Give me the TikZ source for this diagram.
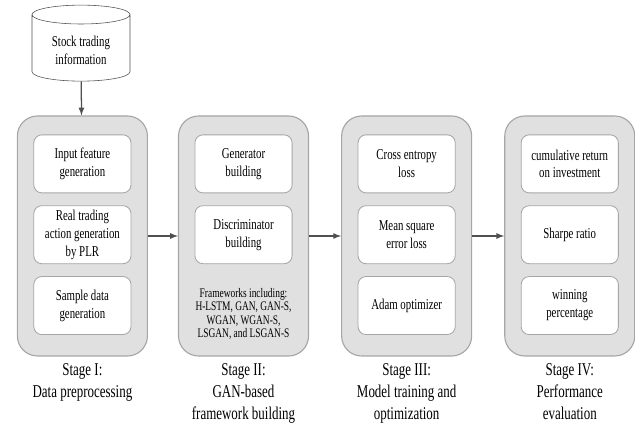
\documentclass[tikz,border=0pt]{standalone}
\usepackage{fontspec}
\setmainfont[FakeStretch=0.72]{Liberation Serif}
\usepackage{tikz}
\usetikzlibrary{positioning, arrows, shapes.geometric, calc}
\definecolor{stagefill}{HTML}{E0E0E0}
\definecolor{stageline}{HTML}{A6A6A6}
\definecolor{arrowgray}{HTML}{505050}
\tikzset{
    stagebox/.style={draw=stageline, fill=stagefill, line width=0.8pt, rounded corners=0.5cm,
        minimum width=3.25cm, minimum height=6cm},
    task/.style={draw=stageline, fill=white, line width=0.6pt, rounded corners=0.2cm,
        minimum width=2.43cm, minimum height=1.45cm, align=center,
        font=\fontsize{10.7}{12.8}\selectfont, inner sep=1pt},
    stagelabel/.style={align=center, font=\fontsize{12.8}{15.6}\selectfont},
    flow/.style={->, >=latex, draw=arrowgray, line width=0.9pt},
}

\begin{document}
\begin{tikzpicture}
    \tikzset{node distance=0.3cm}
    \useasboundingbox (0,0) rectangle (15.875,-10.575);

    % source
    \node[draw=arrowgray, fill=white, cylinder, shape border rotate=90, aspect=0.28,
      minimum width=2.45cm, minimum height=1.9cm, align=center,
      font=\fontsize{10.7}{12.8}\selectfont] (src) at (2.025,-1.25) {Stock trading\\information};

    % stages
    \node[stagebox] (s1) at (2.06,-5.9) {};
    \node[stagebox, right=0.75cm of s1] (s2) {};
    \node[stagebox, right=0.8cm of s2] (s3) {};
    \node[stagebox, right=0.8cm of s3] (s4) {};

    \node[task, below=0.475cm of s1.north] (a1) {Input feature\\generation};
    \node[task, below=of a1] (a2) {Real trading\\action generation\\by PLR};
    \node[task, below=of a2] (a3) {Sample data\\generation};

    \node[task, below=0.475cm of s2.north] (b1) {Generator\\building};
    \node[task, below=of b1] (b2) {Discriminator\\building};
    \node[below=0.6cm of b2, align=center, inner sep=0pt,
      font=\fontsize{9.3}{9.6}\selectfont] (b3)
      {Frameworks including:\\H-LSTM, GAN, GAN-S,\\WGAN, WGAN-S,\\LSGAN, and LSGAN-S};

    \node[task, below=0.475cm of s3.north] (c1) {Cross entropy\\loss};
    \node[task, below=of c1] (c2) {Mean square\\error loss};
    \node[task, below=of c2] (c3) {Adam optimizer};

    \node[task, below=0.475cm of s4.north] (d1) {cumulative return\\on investment};
    \node[task, below=of d1] (d2) {Sharpe ratio};
    \node[task, below=of d2] (d3) {winning\\percentage};

    % labels
    \node[stagelabel, below=0.05cm of s1] (l1) {Stage I:\\Data preprocessing};
    \node[stagelabel, below=0.05cm of s2] (l2) {Stage II:\\GAN-based\\framework building};
    \node[stagelabel, below=0.05cm of s3] (l3) {Stage III:\\Model training and\\optimization};
    \node[stagelabel, below=0.05cm of s4] (l4) {Stage IV:\\Performance\\evaluation};

    % arrows
    \draw[flow] (src) -- (s1);
    \draw[flow] (s1) -- (s2);
    \draw[flow] (s2) -- (s3);
    \draw[flow] (s3) -- (s4);
\end{tikzpicture}
\end{document}
